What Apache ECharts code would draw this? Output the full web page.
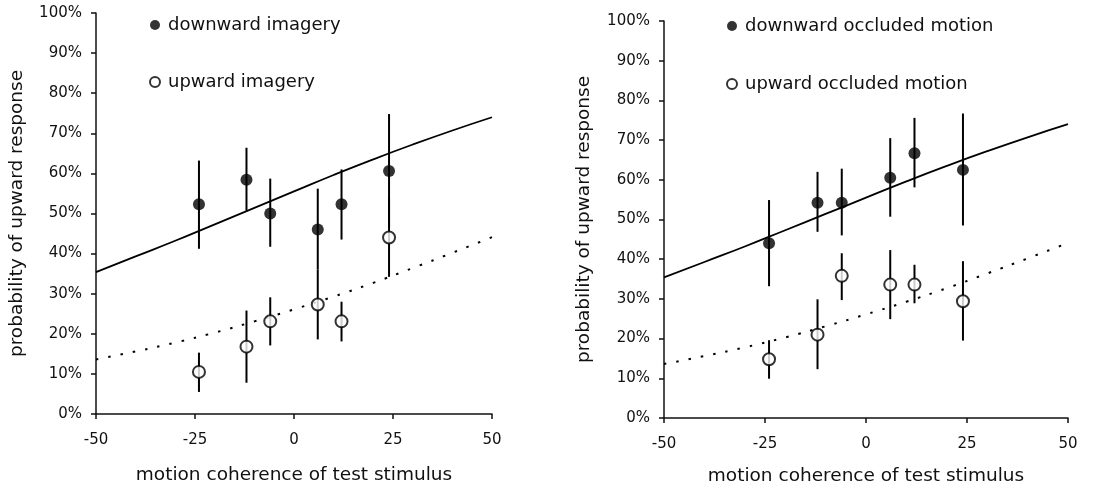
<!DOCTYPE html>
<html>
<head>
<meta charset="utf-8">
<script src="https://cdn.jsdelivr.net/npm/echarts@6/dist/echarts.min.js"></script>
<style>
  html, body { margin: 0; padding: 0; background: #fff; }
  #chart { width: 1102px; height: 493px; }
</style>
</head>
<body>
<div id="chart"></div>
<script>
// Motion coherence levels of the test stimulus
const coherence = [-24, -12, -6, 6, 12, 24];

// Imagery condition: probability of upward response (%) with error-bar ends
const imageryDown     = [52.3, 58.4, 50.0, 46.0, 52.3, 60.6];
const imageryDownLow  = [41.2, 50.7, 41.7, 36.0, 43.5, 46.5];
const imageryDownHigh = [63.2, 66.4, 58.7, 56.2, 61.0, 74.8];
const imageryUp       = [10.5, 16.8, 23.1, 27.3, 23.1, 44.0];
const imageryUpLow    = [5.5, 7.8, 17.1, 18.6, 18.1, 34.2];
const imageryUpHigh   = [15.3, 25.8, 29.1, 36.0, 28.0, 54.0];

// Occluded-motion condition
const occludedDown     = [44.0, 54.2, 54.2, 60.5, 66.7, 62.5];
const occludedDownLow  = [33.2, 46.9, 46.0, 50.7, 58.1, 48.5];
const occludedDownHigh = [54.9, 62.0, 62.8, 70.5, 75.6, 76.7];
const occludedUp       = [14.8, 21.0, 35.8, 33.6, 33.6, 29.4];
const occludedUpLow    = [9.9, 12.3, 29.7, 24.9, 28.9, 19.5];
const occludedUpHigh   = [19.6, 29.9, 41.5, 42.3, 38.6, 39.5];

// Fitted psychometric curves (same in both panels)
const fitX    = [-50, -40, -30, -20, -10, 0, 10, 20, 30, 40, 50];
const fitDown = [35.4, 39.3, 43.2, 47.3, 51.4, 55.5, 59.6, 63.5, 67.2, 70.7, 74.0];
const fitUp   = [13.6, 15.6, 17.8, 20.3, 23.1, 26.1, 29.3, 32.7, 36.4, 40.2, 44.1];

// Axis labels
const xTitle = 'motion coherence of test stimulus';
const yTitle = 'probability of upward response';
const panelNames = [
  ['downward imagery', 'upward imagery'],
  ['downward occluded motion', 'upward occluded motion']
];

const FONT = 'DejaVu Sans';
const INK = '#111';

const pairs = (xs, ys) => xs.map((x, i) => [x, ys[i]]);
const bars = (xs, lo, hi) => xs.map((x, i) => [x, lo[i], hi[i]]);

function xAxis(gi, gap) {
  return {
    type: 'value', gridIndex: gi, min: -50, max: 50, interval: 25,
    name: xTitle, nameLocation: 'middle', nameGap: gap,
    nameTextStyle: { fontFamily: FONT, fontSize: 18.5, color: INK },
    axisLine: { show: true, onZero: false, lineStyle: { color: INK, width: 1.5 } },
    axisTick: { show: true, length: 5, lineStyle: { color: INK, width: 1.5 } },
    axisLabel: { fontFamily: FONT, fontSize: 15, color: INK, margin: 19 },
    splitLine: { show: false }
  };
}
function yAxis(gi, gap) {
  return {
    type: 'value', gridIndex: gi, min: 0, max: 100, interval: 10,
    name: yTitle, nameLocation: 'middle', nameGap: gap,
    nameTextStyle: { fontFamily: FONT, fontSize: 18.5, color: INK },
    axisLine: { show: true, onZero: false, lineStyle: { color: INK, width: 1.5 } },
    axisTick: { show: true, length: 5, lineStyle: { color: INK, width: 1.5 } },
    axisLabel: { fontFamily: FONT, fontSize: 15, color: INK, margin: 14, formatter: '{value}%' },
    splitLine: { show: false }
  };
}

function errorBars(idx, data) {
  return {
    type: 'custom', xAxisIndex: idx, yAxisIndex: idx, z: 2,
    data: data, silent: true,
    renderItem: function (params, api) {
      const a = api.coord([api.value(0), api.value(1)]);
      const b = api.coord([api.value(0), api.value(2)]);
      return {
        type: 'line',
        shape: { x1: a[0], y1: a[1], x2: b[0], y2: b[1] },
        style: { stroke: '#000', lineWidth: 2 }
      };
    }
  };
}
function fitLine(idx, ys, dotted) {
  return {
    type: 'line', xAxisIndex: idx, yAxisIndex: idx, z: 1,
    data: pairs(fitX, ys), smooth: true, showSymbol: false, silent: true,
    lineStyle: dotted
      ? { color: '#000', width: 2, type: [2.5, 10] }
      : { color: '#000', width: 1.8 }
  };
}
function points(idx, name, ys, filled) {
  return {
    type: 'scatter', name: name, xAxisIndex: idx, yAxisIndex: idx, z: 3,
    data: pairs(coherence, ys), symbol: 'circle', symbolSize: 12,
    itemStyle: filled
      ? { color: '#000', borderColor: '#000', borderWidth: 0 }
      : { color: '#fff', borderColor: '#000', borderWidth: 2 }
  };
}
function legend(names, left, top, gap) {
  return {
    data: names, orient: 'vertical', left: left, top: top, padding: 0,
    itemWidth: 16, itemHeight: 10, itemGap: gap, selectedMode: false,
    textStyle: { fontFamily: FONT, fontSize: 18, color: INK }
  };
}

const chart = echarts.init(document.getElementById('chart'), null, { renderer: 'canvas' });
chart.setOption({
  animation: false,
  backgroundColor: '#fff',
  grid: [
    { left: 96, right: 610, top: 13, bottom: 79 },
    { left: 664, right: 34, top: 21, bottom: 75 }
  ],
  xAxis: [xAxis(0, 52), xAxis(1, 49)],
  yAxis: [yAxis(0, 69), yAxis(1, 70)],
  legend: [legend(panelNames[0], 149, 16, 39), legend(panelNames[1], 726, 17, 40)],
  series: [
    fitLine(0, fitDown, false),
    fitLine(0, fitUp, true),
    errorBars(0, bars(coherence, imageryDownLow, imageryDownHigh)),
    errorBars(0, bars(coherence, imageryUpLow, imageryUpHigh)),
    points(0, panelNames[0][0], imageryDown, true),
    points(0, panelNames[0][1], imageryUp, false),
    fitLine(1, fitDown, false),
    fitLine(1, fitUp, true),
    errorBars(1, bars(coherence, occludedDownLow, occludedDownHigh)),
    errorBars(1, bars(coherence, occludedUpLow, occludedUpHigh)),
    points(1, panelNames[1][0], occludedDown, true),
    points(1, panelNames[1][1], occludedUp, false)
  ]
});
</script>
</body>
</html>
